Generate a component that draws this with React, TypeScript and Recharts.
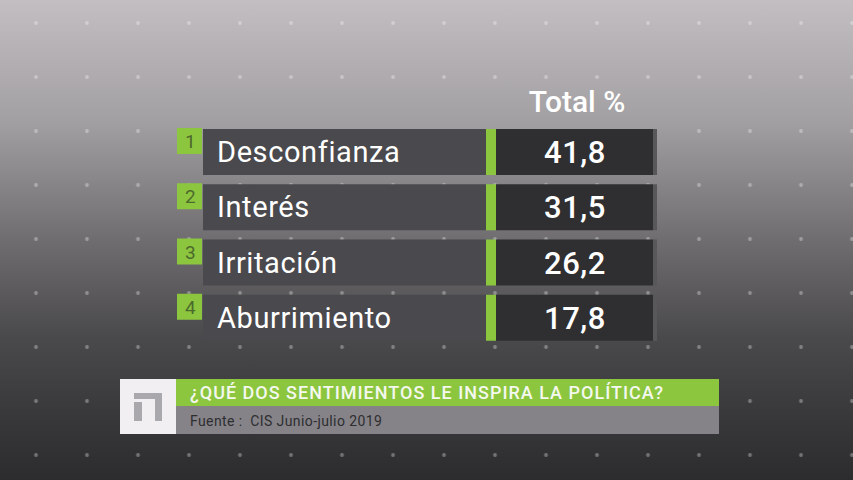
import { BarChart, Bar, XAxis, YAxis } from "recharts";

const categories = ["Desconfianza", "Interés", "Irritación", "Aburrimiento"];
const ranks = [1, 2, 3, 4];
const totals = [41.8, 31.5, 26.2, 17.8];
const columnTitle = "Total %";
const question = "¿QUÉ DOS SENTIMIENTOS LE INSPIRA LA POLÍTICA?";
const source = "Fuente :  CIS Junio-julio 2019";

const data = categories.map((name, i) => ({ name, rank: ranks[i], total: totals[i] }));

const GREEN = "#8cc63f";
const FONT = "Roboto, 'Noto Sans', sans-serif";

function RowShape(props: any) {
  const { y, height, payload } = props;
  const cy = y + height / 2;
  const value = payload.total.toFixed(1).replace(".", ",");
  return (
    <g>
      <rect x={177} y={y - 1} width={25} height={26} fill={GREEN} />
      <text x={185} y={y + 19} fontSize={19} fill="#4d6a2d" fontFamily={FONT}>
        {payload.rank}
      </text>
      <rect x={203} y={y} width={283} height={height} fill="#4a494d" />
      <rect x={486} y={y} width={10} height={height} fill={GREEN} />
      <rect x={496} y={y} width={157} height={height} fill="#2f2f31" />
      <rect x={653} y={y} width={4} height={height} fill="#58575a" />
      <text x={217} y={cy} dy={10} fontSize={29} letterSpacing={0.6} fill="#ffffff" fontFamily={FONT}>
        {payload.name}
      </text>
      <text x={575} y={cy} dy={11} fontSize={31} fontWeight={500} letterSpacing={0.5} fill="#ffffff" textAnchor="middle" fontFamily={FONT}>
        {value}
      </text>
    </g>
  );
}

export default function App() {
  return (
    <div
      style={{
        position: "absolute",
        left: 0,
        top: 0,
        width: 853,
        height: 480,
        overflow: "hidden",
        fontFamily: FONT,
        background:
          "radial-gradient(circle, rgba(255,255,255,0.32) 1.6px, transparent 2.2px) 10.5px -4px / 51px 54px, linear-gradient(180deg, #c2bec2 0%, #a3a0a3 25%, #6f6d70 50%, #4a494c 70%, #3a3a3c 85%, #2c2c2e 100%)",
      }}
    >
      <div
        style={{
          position: "absolute",
          left: 496,
          width: 162,
          top: 83,
          textAlign: "center",
          color: "#fff",
          fontSize: 30,
          fontWeight: 500,
          lineHeight: "38px",
        }}
      >
        {columnTitle}
      </div>
      <div style={{ position: "absolute", left: 0, top: 0 }}>
        <BarChart
          width={853}
          height={480}
          layout="vertical"
          data={data}
          margin={{ top: 124, bottom: 135, left: 0, right: 0 }}
        >
          <XAxis type="number" domain={[0, 50]} hide />
          <YAxis type="category" dataKey="name" hide />
          <Bar dataKey="total" barSize={46} isAnimationActive={false} shape={RowShape} />
        </BarChart>
      </div>
      <div style={{ position: "absolute", left: 120, top: 379, width: 56, height: 55, background: "#f1eff1" }}>
        <div style={{ position: "absolute", left: 14, top: 14, width: 28, height: 6, background: "#a9a8ac" }} />
        <div style={{ position: "absolute", left: 35, top: 14, width: 7, height: 28, background: "#a9a8ac" }} />
        <div style={{ position: "absolute", left: 14, top: 23, width: 8, height: 19, background: "#a9a8ac" }} />
      </div>
      <div
        style={{
          position: "absolute",
          left: 176,
          top: 379,
          width: 543,
          height: 27,
          background: GREEN,
          color: "#f4f8ee",
          fontSize: 18,
          fontWeight: 500,
          letterSpacing: 1,
          lineHeight: "28px",
          paddingLeft: 14,
          boxSizing: "border-box",
          whiteSpace: "nowrap",
        }}
      >
        {question}
      </div>
      <div
        style={{
          position: "absolute",
          left: 176,
          top: 406,
          width: 543,
          height: 28,
          background: "#858388",
          color: "#2e2e30",
          fontSize: 14,
          letterSpacing: 0.4,
          lineHeight: "30px",
          paddingLeft: 14,
          boxSizing: "border-box",
          whiteSpace: "pre",
        }}
      >
        {source}
      </div>
    </div>
  );
}
